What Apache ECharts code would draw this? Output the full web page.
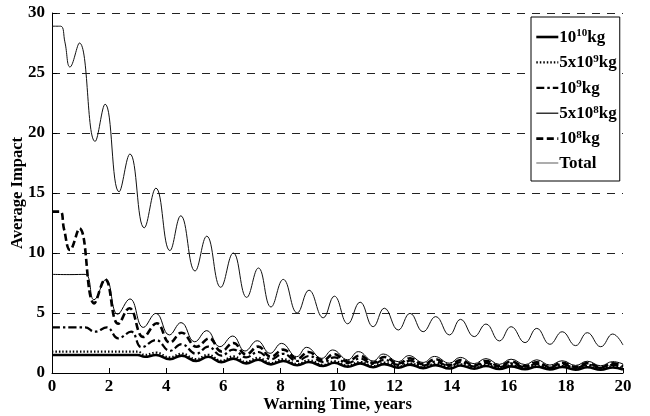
<!DOCTYPE html>
<html>
<head>
<meta charset="utf-8">
<script src="https://cdn.jsdelivr.net/npm/echarts@6/dist/echarts.min.js"></script>
<style>html,body{margin:0;padding:0;background:#fff}#c{width:650px;height:416px}</style>
</head>
<body>
<div id="c"></div>
<script>
// ---- data (x = warning time in years, y = average impact) ----
const xTicks = [0, 2, 4, 6, 8, 10, 12, 14, 16, 18, 20];
const yTicks = [0, 5, 10, 15, 20, 25, 30];
const seriesNames = ['10^10kg', '5x10^9kg', '10^9kg', '5x10^8kg', '10^8kg', 'Total'];

const total = [[0,28.9],[0.3,28.9],[0.45,27.6],[0.63,25.5],[0.96,27.5],[1.51,19.3],[1.86,22.4],[2.35,15.1],[2.73,18.25],
  [3.23,12.1],[3.64,15.4],[4.13,10.2],[4.51,13.1],[5.01,8.5],[5.42,11.4],[5.91,7.14],[6.35,10.0],[6.82,6.3],[7.23,8.75],
  [7.67,5.5],[8.1,7.8],[8.59,5.0],[9.0,6.9],[9.5,4.6],[9.89,6.4],[10.36,4.1],[10.79,5.9],[11.25,3.86],[11.64,5.4],
  [12.13,3.58],[12.54,4.97],[13.0,3.44],[13.44,4.7],[13.92,3.17],[14.31,4.47],[14.79,3.03],[15.2,4.08],[15.67,2.67],
  [16.08,3.86],[16.57,2.53],[16.98,3.72],[17.44,2.39],[17.87,3.44],[18.34,2.28],[18.75,3.36],[19.22,2.19],[19.64,3.25],[20,2.33]];

const kg1e8 = [[0,13.45],[0.28,13.45],[0.42,12.0],[0.63,10.25],[0.96,12.05],[1.48,5.8],[1.86,7.8],[2.32,4.1],[2.71,5.4],
  [3.2,3.0],[3.67,4.14],[4.13,2.53],[4.54,3.36],[5.07,2.19],[5.51,2.89],[5.93,1.8],[6.35,2.5],[6.8,1.55],[7.22,2.2],
  [7.67,1.35],[8.1,1.95],[8.59,1.18],[8.98,1.75],[9.5,1.05],[9.87,1.58],[10.36,0.95],[10.77,1.45],[11.25,0.85],[11.64,1.33],
  [12.13,0.78],[12.54,1.22],[13.0,0.72],[13.44,1.15],[13.92,0.66],[14.31,1.08],[14.79,0.62],[15.2,1.0],[15.67,0.58],
  [16.08,0.95],[16.57,0.55],[16.98,0.9],[17.44,0.52],[17.87,0.85],[18.34,0.5],[18.75,0.82],[19.22,0.48],[19.64,0.8],[20,0.58]];

const kg5e8 = [[0,8.22],[0.6,8.2],[1.16,8.22],[1.47,6.1],[1.89,7.8],[2.3,4.9],[2.73,6.17],[3.2,3.8],[3.64,4.97],[4.11,3.17],
  [4.52,4.2],[5.0,2.6],[5.42,3.53],[5.88,2.19],[6.33,3.08],[6.76,1.83],[7.19,2.69],[7.64,1.64],[8.04,2.47],[8.57,1.36],
  [8.92,2.14],[9.45,1.22],[9.83,1.92],[10.36,1.1],[10.73,1.78],[11.25,1.0],[11.6,1.58],[12.13,0.95],[12.5,1.45],[13.0,0.88],
  [13.4,1.38],[13.92,0.82],[14.3,1.3],[14.79,0.78],[15.2,1.2],[15.67,0.72],[16.08,1.15],[16.57,0.7],[16.98,1.1],[17.44,0.66],
  [17.87,1.02],[18.34,0.63],[18.75,0.98],[19.22,0.6],[19.64,0.95],[20,0.75]];

const kg1e9 = [[0,3.8],[1.16,3.8],[1.5,3.44],[1.92,3.8],[2.32,2.89],[2.77,3.44],[3.14,2.14],[3.64,2.75],[4.13,1.85],[4.54,2.4],
  [5.05,1.6],[5.47,2.2],[5.93,1.45],[6.35,1.95],[6.8,1.3],[7.22,1.75],[7.67,1.15],[8.1,1.6],[8.59,1.0],[9.0,1.42],[9.5,0.9],
  [9.89,1.3],[10.36,0.82],[10.79,1.2],[11.25,0.75],[11.64,1.1],[12.13,0.68],[12.54,1.02],[13.0,0.62],[13.44,0.95],[13.92,0.58],
  [14.31,0.9],[14.79,0.54],[15.2,0.85],[15.67,0.5],[16.08,0.8],[16.57,0.48],[16.98,0.76],[17.44,0.45],[17.87,0.72],[18.34,0.43],
  [18.75,0.7],[19.22,0.42],[19.64,0.68],[20,0.5]];

const kg5e9 = [[0,1.78],[3.0,1.78],[3.25,1.5],[3.64,1.7],[4.13,1.3],[4.54,1.62],[5.05,1.15],[5.47,1.52],[5.93,1.02],[6.35,1.38],
  [6.8,0.92],[7.22,1.27],[7.67,0.83],[8.1,1.16],[8.59,0.75],[9.0,1.06],[9.5,0.68],[9.89,0.98],[10.36,0.62],[10.79,0.92],
  [11.25,0.57],[11.64,0.86],[12.13,0.53],[12.54,0.81],[13.0,0.49],[13.44,0.77],[13.92,0.46],[14.31,0.73],[14.79,0.43],
  [15.2,0.69],[15.67,0.41],[16.08,0.66],[16.57,0.39],[16.98,0.63],[17.44,0.37],[17.87,0.6],[18.34,0.36],[18.75,0.58],
  [19.22,0.34],[19.64,0.56],[20,0.4]];

const kg1e10 = [[0,1.5],[3.0,1.5],[3.25,1.35],[3.64,1.5],[4.13,1.15],[4.54,1.45],[5.05,1.0],[5.47,1.35],[5.93,0.9],[6.35,1.2],
  [6.8,0.8],[7.22,1.1],[7.67,0.72],[8.1,1.0],[8.59,0.65],[9.0,0.92],[9.5,0.58],[9.89,0.85],[10.36,0.52],[10.79,0.8],
  [11.25,0.48],[11.64,0.74],[12.13,0.44],[12.54,0.7],[13.0,0.4],[13.44,0.66],[13.92,0.37],[14.31,0.62],[14.79,0.35],
  [15.2,0.58],[15.67,0.33],[16.08,0.55],[16.57,0.31],[16.98,0.52],[17.44,0.3],[17.87,0.5],[18.34,0.28],[18.75,0.48],
  [19.22,0.27],[19.64,0.46],[20,0.3]];

// ---- chart ----
const FONT = '"Liberation Serif", "Times New Roman", serif';
const richLabels = {
  '10^10kg': '{m|10}{s|10}{m|kg}',
  '5x10^9kg': '{m|5x10}{s|9}{m|kg}',
  '10^9kg': '{m|10}{s|9}{m|kg}',
  '5x10^8kg': '{m|5x10}{s|8}{m|kg}',
  '10^8kg': '{m|10}{s|8}{m|kg}',
  'Total': '{m|Total}'
};
const styles = [
  {width: 2.6, type: 'solid', color: '#000'},
  {width: 2.2, type: [1.5, 2], color: '#000'},
  {width: 2.2, type: [8, 3, 2.5, 3], color: '#000'},
  {width: 1, type: 'solid', color: '#000'},
  {width: 2.6, type: [7, 3.5], color: '#000'},
  {width: 1, type: 'solid', color: '#111'}
];
const datasets = [kg1e10, kg5e9, kg1e9, kg5e8, kg1e8, total];

const chart = echarts.init(document.getElementById('c'), null, {renderer: 'canvas'});
chart.setOption({
  animation: false,
  backgroundColor: '#fff',
  grid: {left: 52, right: 27, top: 13, bottom: 43, containLabel: false, outerBoundsMode: 'none'},
  xAxis: {
    type: 'value', min: xTicks[0], max: xTicks[xTicks.length - 1], interval: 2,
    name: 'Warning Time, years', nameLocation: 'middle', nameGap: 23, nameMoveOverlap: false,
    nameTextStyle: {fontFamily: FONT, fontWeight: 'bold', fontSize: 16.5, color: '#000'},
    axisLine: {lineStyle: {color: '#000', width: 1}},
    axisTick: {inside: true, length: 5, lineStyle: {color: '#000'}},
    axisLabel: {fontFamily: FONT, fontWeight: 'bold', fontSize: 17, color: '#000', margin: 5},
    splitLine: {show: false}
  },
  yAxis: {
    type: 'value', min: yTicks[0], max: yTicks[yTicks.length - 1], interval: 5,
    name: 'Average Impact', nameLocation: 'middle', nameGap: 26, nameMoveOverlap: false,
    nameTextStyle: {fontFamily: FONT, fontWeight: 'bold', fontSize: 16.5, color: '#000'},
    axisLine: {show: true, lineStyle: {color: '#000', width: 1}},
    axisTick: {show: true, inside: true, length: 5, lineStyle: {color: '#000'}},
    axisLabel: {fontFamily: FONT, fontWeight: 'bold', fontSize: 17, color: '#000', margin: 7},
    splitLine: {show: true, lineStyle: {color: '#222', width: 1, type: [8, 7]}}
  },
  legend: {
    orient: 'vertical', left: 531, top: 17,
    backgroundColor: '#fff', borderColor: '#000', borderWidth: 1,
    padding: [11, 3, 9, 4], itemGap: 7.4, itemWidth: 22, itemHeight: 10,
    itemStyle: {color: 'rgba(0,0,0,0)', borderWidth: 0, opacity: 0},
    data: seriesNames.map((n, i) => ({
      name: n,
      lineStyle: {color: i === 5 ? '#777' : '#000', width: i === 3 || i === 5 ? 1.2 : styles[i].width, type: styles[i].type}
    })),
    formatter: n => richLabels[n],
    textStyle: {
      color: '#000', padding: [0, 0, 0, -4],
      rich: {
        m: {fontFamily: FONT, fontWeight: 'bold', fontSize: 17, color: '#000', lineHeight: 18, verticalAlign: 'bottom'},
        s: {fontFamily: FONT, fontWeight: 'bold', fontSize: 11, color: '#000', lineHeight: 18, verticalAlign: 'top'}
      }
    }
  },
  series: datasets.map((d, i) => ({
    name: seriesNames[i], type: 'line', data: d, showSymbol: false, symbol: 'none',
    smooth: 0.45, z: 10 - i,
    lineStyle: {color: styles[i].color, width: styles[i].width, type: styles[i].type},
    itemStyle: {color: '#000'}
  }))
});
</script>
</body>
</html>
